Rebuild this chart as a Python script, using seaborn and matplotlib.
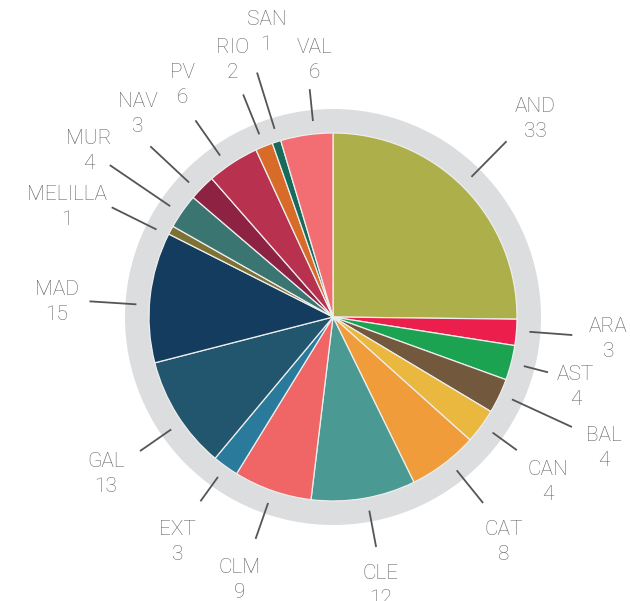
import numpy as np
import matplotlib
matplotlib.use("Agg")
import matplotlib.pyplot as plt
from matplotlib.patches import Wedge
import seaborn as sns

# Regions and their counts, clockwise from 12 o'clock
regions = ["AND", "ARA", "AST", "BAL", "CAN", "CAT", "CLE", "CLM", "EXT",
           "GAL", "MAD", "MELILLA", "MUR", "NAV", "PV", "RIO", "SAN", "VAL"]
counts = [33, 3, 4, 4, 4, 8, 12, 9, 3, 13, 15, 1, 4, 3, 6, 2, 1, 6]
colors = ["#ADAF4B", "#EC1F4C", "#1BA352", "#72583C", "#EAB83F", "#F19C3A",
          "#4A9A93", "#F06565", "#2A7A9B", "#22556E", "#143C5F", "#7D7133",
          "#3B7571", "#8E2243", "#B8314F", "#D86B27", "#186A5B", "#F26E72"]

# Leader-line and label layout (radii in px, angle nudges in degrees, clockwise)
line_end_r = [247, 240, 222, 263, 227, 239, 234, 235, 227,
              235, 244, 247, 270, 250, 240, 240, 256, 229]
label_r = [284, 276, 252, 300, 270, 281, 271, 277, 272,
           275, 277, 289, 296, 283, 278, 278, 295, 260]
line_nudge = [-0.7, -0.5, 0, -0.7, -0.5, -1.8, -1, 0, 0,
              -2.5, -2.5, -1.8, -0.8, -1.6, -2, 0, 0.6, 2.4]
label_nudge = [0, -0.6, 1.2, 0, 0.8, -0.4, -0.4, 0.4, -0.9,
               -2, -2.7, -5.4, -0.5, 1.8, 0.3, 0.7, 4.8, 4.2]

sns.set_theme(style="white")
plt.rcParams["font.family"] = ["Roboto", "DejaVu Sans"]

W, H = 630, 601
fig = plt.figure(figsize=(W / 100, H / 100), dpi=100)
ax = fig.add_axes([0, 0, 1, 1])

cx, cy = 333, H - 317
R = 184
ring_outer = 208

# grey ring around the pie
ax.add_patch(Wedge((cx, cy), ring_outer, 0, 360, width=ring_outer - R + 2,
                   facecolor="#DCDDDF", edgecolor="none", zorder=0))

wedges, _ = ax.pie(counts, colors=sns.color_palette(colors), startangle=90,
                   counterclock=False, radius=R, center=(cx, cy),
                   wedgeprops=dict(edgecolor="#EEEEEE", linewidth=0.9))
for w in wedges:
    w.set_zorder(1)

text_color = "#646464"
for i, w in enumerate(wedges):
    mid = (w.theta1 + w.theta2) / 2.0   # math angle (ccw from +x)
    a_line = np.deg2rad(mid - line_nudge[i])
    a_lab = np.deg2rad(mid - label_nudge[i])
    r0 = 197
    x0, y0 = cx + r0 * np.cos(a_line), cy + r0 * np.sin(a_line)
    x1, y1 = cx + line_end_r[i] * np.cos(a_line), cy + line_end_r[i] * np.sin(a_line)
    ax.plot([x0, x1], [y0, y1], color="#555555", lw=1.3, solid_capstyle="butt",
            zorder=2)
    tx, ty = cx + label_r[i] * np.cos(a_lab), cy + label_r[i] * np.sin(a_lab) - 2
    ax.text(tx, ty + 12.5, regions[i], ha="center", va="center",
            fontsize=15, fontweight="light", color=text_color)
    ax.text(tx, ty - 12.5, str(counts[i]), ha="center", va="center",
            fontsize=15, fontweight="light", color=text_color)

ax.set_xlim(0, W)
ax.set_ylim(0, H)
ax.set_aspect("auto")
ax.axis("off")

fig.savefig("out.png", dpi=100, facecolor="white")
